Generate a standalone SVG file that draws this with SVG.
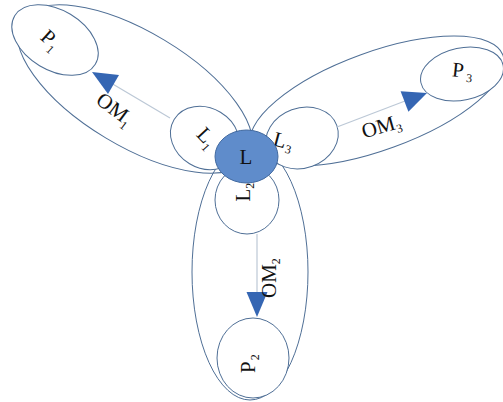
<svg xmlns="http://www.w3.org/2000/svg" width="503" height="402" viewBox="0 0 503 402">
<style>
.o{fill:none;stroke:#4f6f96;stroke-width:1}
.w{fill:#fff;stroke:#4f6f96;stroke-width:1}
.t{font-family:"Liberation Serif",serif;font-size:21px;fill:#111}
.s{font-size:12px}
.ln{stroke:#bcc8d6;stroke-width:1.2;fill:none}
.ah{fill:#3566b3}
</style>
<rect width="503" height="402" fill="#fff"/>
<g id="petal-left">
<ellipse class="o" cx="135" cy="89" rx="133" ry="57" transform="rotate(31 135 89)"/>
</g>
<g id="petal-right">
<ellipse class="o" cx="377" cy="101" rx="134" ry="49" transform="rotate(-20 377 101)"/>
</g>
<g id="petal-bottom">
<ellipse class="o" cx="250" cy="272" rx="58" ry="128"/>
</g>
<g id="P1">
<ellipse class="w" cx="55" cy="40" rx="47" ry="30" transform="rotate(31 55 40)"/>
<text class="t" transform="translate(39.2,38.4) rotate(42)">P<tspan class="s" dx="1" dy="5">1</tspan></text>
</g>
<g id="P3">
<ellipse class="w" cx="462" cy="74" rx="42" ry="26" transform="rotate(-12 462 74)"/>
<text class="t" transform="translate(451.5,76.3) rotate(6)">P<tspan class="s" dx="3" dy="4">3</tspan></text>
</g>
<g id="P2">
<ellipse class="w" cx="253" cy="358" rx="36" ry="40"/>
<text class="t" transform="translate(255,373) rotate(-90)">P<tspan class="s" dx="1" dy="4">2</tspan></text>
</g>
<g id="L1">
<ellipse class="w" cx="205" cy="138" rx="36" ry="30" transform="rotate(31 205 138)"/>
<text class="t" transform="translate(195.6,135.2) rotate(47)">L<tspan class="s" dy="5">1</tspan></text>
</g>
<g id="L3">
<ellipse class="w" cx="302" cy="138" rx="37" ry="30" transform="rotate(-20 302 138)"/>
<text class="t" transform="translate(272,145) rotate(15)">L<tspan class="s" dx="1" dy="4">3</tspan></text>
</g>
<g id="L2">
<ellipse class="w" cx="247" cy="200" rx="32" ry="34"/>
<text class="t" transform="translate(250,201.5) rotate(-90)">L<tspan class="s" dy="4">2</tspan></text>
</g>
<g id="connectors">
<line class="ln" x1="170" y1="118" x2="111" y2="83"/>
<polygon class="ah" points="92,72 108,94 119,75"/>
<text class="t" transform="translate(94.8,102.5) rotate(37)">OM<tspan class="s" dy="5">1</tspan></text>
<line class="ln" x1="337" y1="127" x2="405" y2="101"/>
<polygon class="ah" points="427,93 400.6,91.2 408.4,111.8"/>
<text class="t" transform="translate(364,138.5) rotate(-16)">OM<tspan class="s" dy="4">3</tspan></text>
<line class="ln" x1="257" y1="234" x2="257" y2="293"/>
<polygon class="ah" points="257,317 246.5,292 267.5,292"/>
<text class="t" transform="translate(276,298) rotate(-90)">OM<tspan class="s" dy="4">2</tspan></text>
</g>
<g id="L">
<ellipse cx="246.5" cy="156.5" rx="31.5" ry="26.5" fill="#5f8ccb" stroke="#41699f" stroke-width="1"/>
<text class="t" x="246" y="164" text-anchor="middle">L</text>
</g>
</svg>
